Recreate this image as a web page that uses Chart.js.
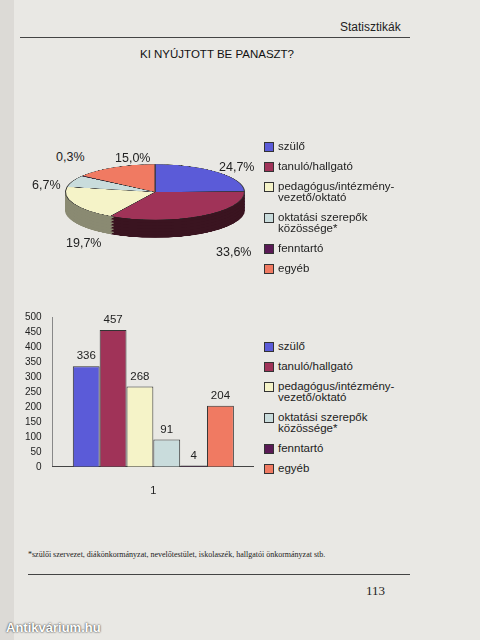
<!DOCTYPE html>
<html>
<head>
<meta charset="utf-8">
<script src="https://cdn.jsdelivr.net/npm/chart.js@4"></script>
<style>
  body { margin: 0; width: 480px; height: 640px; background: #dcdad6; font-family: "Liberation Sans", Arial, sans-serif; overflow: hidden; }
  #page { position: absolute; left: 14px; top: 0; width: 466px; height: 640px; background: #e9e8e4; }
  .abs { position: absolute; }
  .pw { position: absolute; left: 51px; width: 180px; height: 180px; transform: scaleY(0.31); transform-origin: 50% 50%; }
  .legend div { display: flex; align-items: flex-start; font-size: 11.5px; color: #222; line-height: 11px; margin-bottom: 9px; }
  .legend span.sw { width: 8px; height: 8px; border: 1px solid #333; margin: 1px 4px 0 0; flex: none; }
  .pct { position: absolute; font-size: 12.5px; color: #222; }
</style>
</head>
<body>
<div id="page">
  <div class="abs" style="left:326px;top:20px;font-size:12px;color:#222">Statisztikák</div>
  <div class="abs" style="left:6px;top:37px;width:390px;border-top:1px solid #444"></div>
  <div class="abs" style="left:126px;top:48px;font-size:11.5px;color:#111">KI NYÚJTOTT BE PANASZT?</div>

  <div id="pies"></div>
  <div class="pct" style="left:42px;top:150px">0,3%</div>
  <div class="pct" style="left:101px;top:151px">15,0%</div>
  <div class="pct" style="left:205px;top:160px">24,7%</div>
  <div class="pct" style="left:18px;top:178px">6,7%</div>
  <div class="pct" style="left:52px;top:236px">19,7%</div>
  <div class="pct" style="left:202px;top:245px">33,6%</div>
  <div class="legend abs" id="leg1" style="left:250px;top:141px"></div>

  <div class="abs" style="left:8px;top:308px;width:232px;height:200px"><canvas id="bar"></canvas></div>
  <div class="legend abs" id="leg2" style="left:250px;top:341px"></div>

  <div class="abs" style="left:14px;top:550px;font-size:8px;color:#222;font-family:'Liberation Serif',serif">*szülői szervezet, diákönkormányzat, nevelőtestület, iskolaszék, hallgatói önkormányzat stb.</div>
  <div class="abs" style="left:14px;top:574px;width:382px;border-top:1px solid #444"></div>
  <div class="abs" style="left:352px;top:583px;font-size:13px;color:#222;font-family:'Liberation Serif',serif">113</div>
  <div class="abs" style="left:-8px;top:620px;font-size:13px;font-weight:bold;color:#fff;text-shadow:0 0 2px #000">Antikvárium.hu</div>
</div>
<script>
const categories = ['szülő', 'tanuló/hallgató', 'pedagógus/intézmény-\nvezető/oktató', 'oktatási szerepők\nközössége*', 'fenntartó', 'egyéb'];
const counts = [336, 457, 268, 91, 4, 204];
const percents = [24.7, 33.6, 19.7, 6.7, 0.3, 15.0];
const yTicks = [0, 50, 100, 150, 200, 250, 300, 350, 400, 450, 500];
const colors = ['#5b5bd8', '#a03358', '#f5f3c8', '#c9dcdc', '#5a1a55', '#f07a62'];
const sideColors = ['#2e2e70', '#3a1420', '#8a8a72', '#708080', '#301030', '#804038'];

// legends
['leg1', 'leg2'].forEach(id => {
  const el = document.getElementById(id);
  categories.forEach((c, i) => {
    const d = document.createElement('div');
    d.innerHTML = `<span class="sw" style="background:${colors[i]}"></span><span>${c.replace('\n', '<br>')}</span>`;
    el.appendChild(d);
  });
});

// pie: dark layers stacked below the top face for a 3D look
const pieTop = 102;
const depth = [18, 15, 12, 9, 6, 3, 0];
const pies = document.getElementById('pies');
depth.forEach(off => {
  const w = document.createElement('div');
  w.className = 'pw';
  w.style.top = (pieTop + off) + 'px';
  const cv = document.createElement('canvas');
  w.appendChild(cv);
  pies.appendChild(w);
  const top = off === 0;
  new Chart(cv, {
    type: 'pie',
    data: { labels: categories, datasets: [{ data: percents, backgroundColor: top ? colors : sideColors, borderColor: top ? '#333' : sideColors, borderWidth: top ? 1 : 0 }] },
    options: { responsive: true, maintainAspectRatio: true, animation: false, plugins: { legend: { display: false }, tooltip: { enabled: false } } }
  });
});

// bar labels
const valueLabels = {
  id: 'valueLabels',
  afterDatasetsDraw(chart) {
    const ctx = chart.ctx;
    ctx.save();
    ctx.font = '11.5px "Liberation Sans", Arial';
    ctx.fillStyle = '#222';
    ctx.textAlign = 'center';
    chart.data.datasets.forEach((ds, i) => {
      const bar = chart.getDatasetMeta(i).data[0];
      ctx.fillText(ds.data[0], bar.x, bar.y - 7);
    });
    ctx.restore();
  }
};

new Chart(document.getElementById('bar'), {
  type: 'bar',
  data: {
    labels: ['1'],
    datasets: categories.map((c, i) => ({
      label: c, data: [counts[i]], backgroundColor: colors[i], borderColor: '#333', borderWidth: 1,
      barPercentage: 1, categoryPercentage: 0.8
    }))
  },
  options: {
    responsive: true, maintainAspectRatio: false, animation: false,
    layout: { padding: { top: 6 } },
    plugins: { legend: { display: false }, tooltip: { enabled: false } },
    scales: {
      y: {
        min: 0, max: 500,
        afterBuildTicks: ax => { ax.ticks = yTicks.map(v => ({ value: v })); },
        grid: { display: false, drawTicks: true },
        border: { color: '#888' },
        ticks: { autoSkip: false, color: '#222', font: { size: 10, family: 'Liberation Sans' } }
      },
      x: {
        grid: { display: false },
        border: { color: '#444' },
        ticks: { color: '#222', font: { size: 11, family: 'Liberation Sans' }, padding: 10 }
      }
    }
  },
  plugins: [valueLabels]
});
</script>
</body>
</html>
